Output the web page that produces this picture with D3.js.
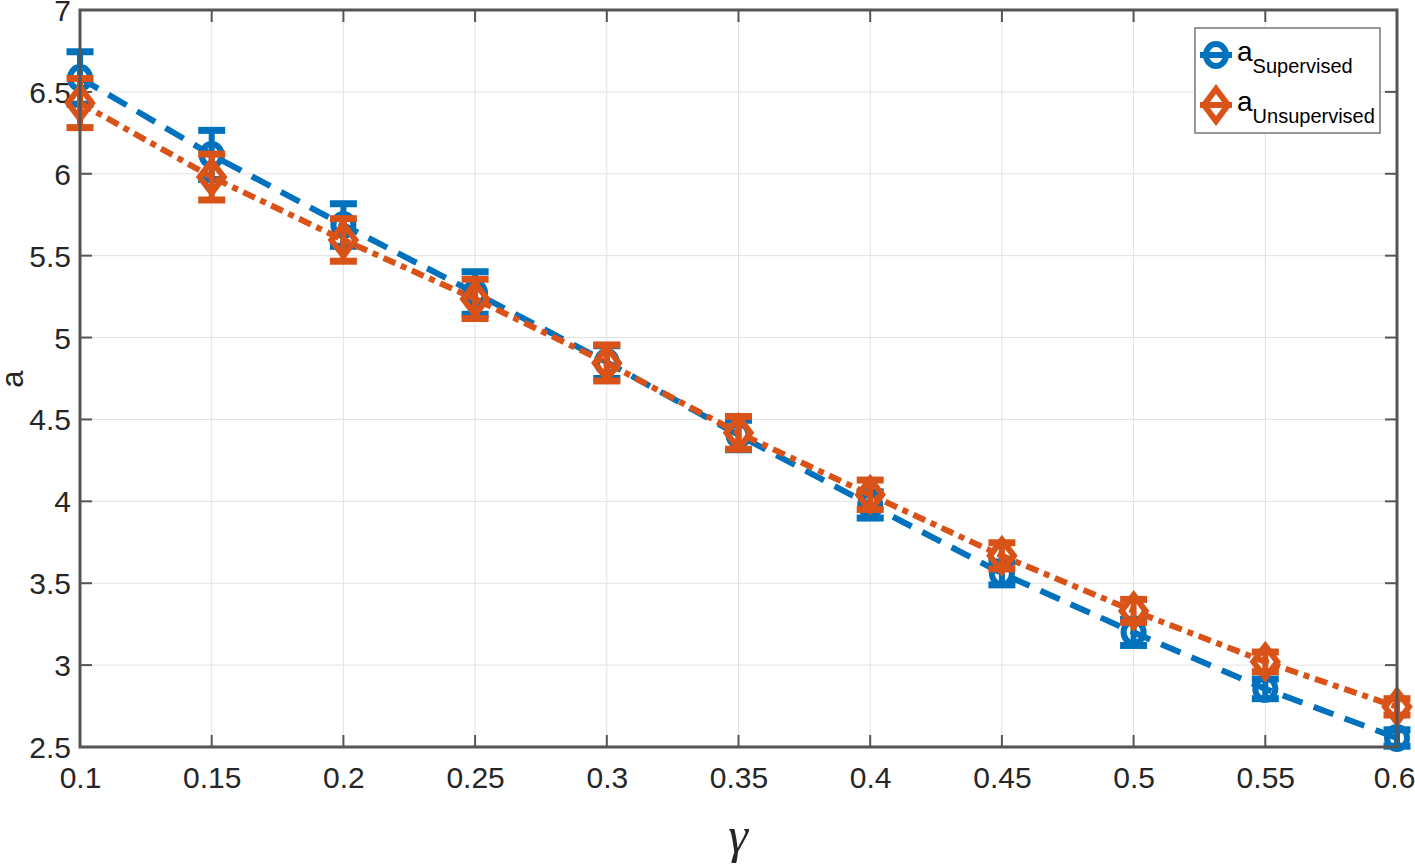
<!DOCTYPE html>
<html><head><meta charset="utf-8">
<script src="https://cdn.jsdelivr.net/npm/d3@7"></script>
<style>body{margin:0;background:#fff}svg{display:block}</style>
</head><body>
<script>
const gammaValues = [0.1,0.15,0.2,0.25,0.3,0.35,0.4,0.45,0.5,0.55,0.6];
const supervisedMean = [6.585,6.115,5.687,5.272,4.85,4.405,3.978,3.56,3.20,2.855,2.555];
const supervisedErr  = [0.16,0.15,0.13,0.13,0.10,0.09,0.08,0.07,0.08,0.06,0.05];
const unsupervisedMean = [6.432,5.98,5.596,5.236,4.845,4.418,4.04,3.667,3.331,3.02,2.745];
const unsupervisedErr  = [0.15,0.14,0.13,0.12,0.11,0.10,0.09,0.08,0.07,0.06,0.05];
const xTicks = [0.1,0.15,0.2,0.25,0.3,0.35,0.4,0.45,0.5,0.55,0.6];
const yTicks = [2.5,3,3.5,4,4.5,5,5.5,6,6.5,7];
const seriesNames = ["Supervised","Unsupervised"];

const W=1415,H=866;
const L=80,R=1397,T=10,B=747;
const svg=d3.select("body").append("svg").attr("width",W).attr("height",H);
const x=d3.scaleLinear().domain([0.1,0.6]).range([L,R]);
const y=d3.scaleLinear().domain([2.5,7]).range([B,T]);
const font="'Liberation Sans', Arial, sans-serif";
const axisCol="#555";

// grid
const g=svg.append("g");
g.selectAll(".gx").data(xTicks).join("line").attr("x1",d=>x(d)).attr("x2",d=>x(d)).attr("y1",T).attr("y2",B).attr("stroke","#e2e2e2").attr("stroke-width",1);
g.selectAll(".gy").data(yTicks).join("line").attr("y1",d=>y(d)).attr("y2",d=>y(d)).attr("x1",L).attr("x2",R).attr("stroke","#e2e2e2").attr("stroke-width",1);

// axes with inner ticks
const tl=12;
const ax=svg.append("g");
const xb=d3.axisBottom(x).tickValues(xTicks).tickSize(0).tickPadding(20).tickFormat(d=>d3.format("")(+d.toFixed(2)));
const yl=d3.axisLeft(y).tickValues(yTicks).tickSize(0).tickPadding(9).tickFormat(d=>d3.format("")(d));
ax.append("g").attr("transform",`translate(0,${B})`).call(xb).call(s=>{s.select(".domain").remove();s.selectAll("text").attr("font-size",30).attr("font-family",font).attr("fill","#262626").attr("dx",(d,i)=>i===xTicks.length-1?-3:0);});
ax.append("g").attr("transform",`translate(${L},0)`).call(yl).call(s=>{s.select(".domain").remove();s.selectAll("text").attr("font-size",30).attr("font-family",font).attr("fill","#262626").attr("dy","0.35em");});
// tick marks
ax.selectAll(".tb").data(xTicks).join("line").attr("x1",d=>x(d)).attr("x2",d=>x(d)).attr("y1",B).attr("y2",B-tl).attr("stroke",axisCol).attr("stroke-width",2);
ax.selectAll(".tt").data(xTicks).join("line").attr("x1",d=>x(d)).attr("x2",d=>x(d)).attr("y1",T).attr("y2",T+tl).attr("stroke",axisCol).attr("stroke-width",2);
ax.selectAll(".tlft").data(yTicks).join("line").attr("y1",d=>y(d)).attr("y2",d=>y(d)).attr("x1",L).attr("x2",L+tl).attr("stroke",axisCol).attr("stroke-width",2);
ax.selectAll(".trt").data(yTicks).join("line").attr("y1",d=>y(d)).attr("y2",d=>y(d)).attr("x1",R).attr("x2",R-tl).attr("stroke",axisCol).attr("stroke-width",2);

const blue="#0072BD",orange="#D95319";
const series=[
 {name:seriesNames[0],mean:supervisedMean,err:supervisedErr,color:blue,dash:"21,12",marker:"circle"},
 {name:seriesNames[1],mean:unsupervisedMean,err:unsupervisedErr,color:orange,dash:"13,6,6,6",marker:"diamond"}
];
const line=d3.line().x(d=>x(d[0])).y(d=>y(d[1]));
const plot=svg.append("g");
function drawMarker(sel,type,color){
  if(type==="circle"){
    sel.append("ellipse").attr("rx",10).attr("ry",11).attr("fill","none").attr("stroke",color).attr("stroke-width",6);
  } else {
    sel.append("path").attr("d","M0,-16L12,0L0,16L-12,0Z").attr("fill","none").attr("stroke",color).attr("stroke-width",6);
  }
}
series.forEach(s=>{
  const pts=gammaValues.map((g,i)=>[g,s.mean[i],s.err[i]]);
  const sg=plot.append("g");
  sg.append("path").datum(pts).attr("d",line).attr("fill","none").attr("stroke",s.color).attr("stroke-width",6).attr("stroke-dasharray",s.dash);
  const eb=sg.selectAll(".eb").data(pts).join("g");
  eb.append("line").attr("x1",d=>x(d[0])).attr("x2",d=>x(d[0])).attr("y1",d=>y(d[1]-d[2])).attr("y2",d=>y(d[1]+d[2])).attr("stroke",s.color).attr("stroke-width",6);
  eb.append("line").attr("x1",d=>x(d[0])-13.5).attr("x2",d=>x(d[0])+13.5).attr("y1",d=>y(d[1]+d[2])).attr("y2",d=>y(d[1]+d[2])).attr("stroke",s.color).attr("stroke-width",7);
  eb.append("line").attr("x1",d=>x(d[0])-13.5).attr("x2",d=>x(d[0])+13.5).attr("y1",d=>y(d[1]-d[2])).attr("y2",d=>y(d[1]-d[2])).attr("stroke",s.color).attr("stroke-width",7);
  const mk=sg.selectAll(".mk").data(pts).join("g").attr("transform",d=>`translate(${x(d[0])},${y(d[1])})`);
  drawMarker(mk,s.marker,s.color);
});

// box
svg.append("rect").attr("x",L).attr("y",T).attr("width",R-L).attr("height",B-T).attr("fill","none").attr("stroke",axisCol).attr("stroke-width",3);

// axis labels
svg.append("text").attr("x",738).attr("y",852).attr("text-anchor","middle").attr("font-family","'Liberation Serif','Times New Roman',serif").attr("font-style","italic").attr("font-size",50).attr("fill","#262626").text("γ");
svg.append("text").attr("transform","translate(23,379) rotate(-90)").attr("text-anchor","middle").attr("font-family",font).attr("font-size",31).attr("fill","#262626").text("a");

// legend
const lg=svg.append("g");
lg.append("rect").attr("x",1195).attr("y",28).attr("width",185).attr("height",105).attr("fill","#fff").attr("stroke","#777").attr("stroke-width",1.5);
series.forEach((s,i)=>{
  const cy=55+i*50;
  lg.append("line").attr("x1",1200).attr("x2",1232).attr("y1",cy).attr("y2",cy).attr("stroke",s.color).attr("stroke-width",6);
  const m=lg.append("g").attr("transform",`translate(1216,${cy})`);
  drawMarker(m,s.marker,s.color);
  const t=lg.append("text").attr("x",1237).attr("y",cy+6).attr("font-family",font).attr("font-size",28).attr("fill","#000");
  t.append("tspan").text("a");
  t.append("tspan").attr("font-size",20).attr("dy",12).text(s.name);
});
</script>
</body></html>
